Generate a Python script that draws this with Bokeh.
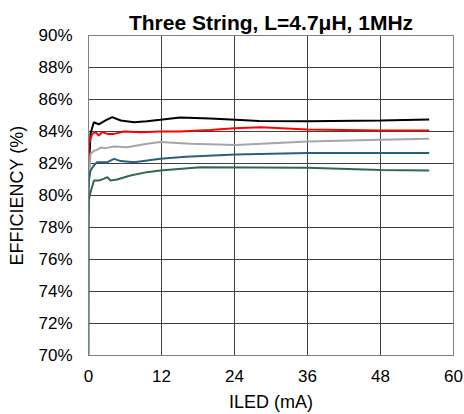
from bokeh.plotting import figure
from bokeh.embed import file_html
from bokeh.resources import INLINE
from bokeh.models import FixedTicker, Range1d

# Data (ILED in mA, efficiency in %)
black_x = [0, 0.33, 0.88, 1.7, 2.8, 3.9, 5.3, 7.5, 9.6, 11.8, 15.1, 20, 24.2, 28, 36, 48, 56]
black_y = [81.0, 83.87, 84.58, 84.44, 84.69, 84.9, 84.69, 84.58, 84.64, 84.73, 84.88, 84.82, 84.73, 84.65, 84.64, 84.69, 84.75]

red_x = [0, 0.05, 0.6, 1.15, 1.7, 2.25, 3.1, 4.2, 5.8, 8.6, 11.8, 15, 20, 24, 28.3, 36, 48, 56]
red_y = [80.5, 83.23, 83.85, 83.96, 83.75, 83.96, 83.85, 83.85, 84.0, 83.96, 84.0, 84.0, 84.1, 84.2, 84.27, 84.12, 84.06, 84.06]

gray_x = [0, 0.33, 0.9, 1.4, 2.0, 2.8, 4.2, 6.4, 9.6, 11.8, 16.8, 24.2, 36, 48, 56]
gray_y = [80.5, 82.6, 82.8, 82.85, 83.0, 82.96, 83.06, 83.02, 83.23, 83.35, 83.23, 83.15, 83.37, 83.48, 83.54]

blue_x = [0, 0.05, 0.33, 0.9, 1.4, 2.0, 3.1, 4.2, 5.3, 7.5, 11.8, 16, 24.2, 36, 48, 56]
blue_y = [79.0, 80.94, 81.56, 81.88, 82.08, 82.08, 82.08, 82.29, 82.15, 82.08, 82.29, 82.42, 82.56, 82.65, 82.65, 82.65]

green_x = [0, 0.05, 0.33, 0.9, 1.7, 2.5, 3.1, 3.6, 4.7, 6.9, 9.6, 11.8, 18.4, 36, 48, 56]
green_y = [69.5, 79.7, 80.2, 80.94, 80.94, 81.04, 81.15, 80.94, 81.0, 81.25, 81.46, 81.56, 81.77, 81.73, 81.6, 81.56]

x_ticks = [0, 12, 24, 36, 48, 60]
y_ticks = [70, 72, 74, 76, 78, 80, 82, 84, 86, 88, 90]
y_tick_labels = ["70%", "72%", "74%", "76%", "78%", "80%", "82%", "84%", "86%", "88%", "90%"]

FONT = "Liberation Sans"

p = figure(width=464, height=414, output_backend="svg", toolbar_location=None,
           x_range=Range1d(0, 60), y_range=Range1d(70, 90),
           min_border_left=88, min_border_right=11, min_border_top=35, min_border_bottom=59,
           title="Three String, L=4.7\u03bcH, 1MHz")

p.title.text_font = FONT
p.title.text_font_size = "21px"
p.title.text_font_style = "bold"
p.title.text_color = "#000000"
p.title.align = "center"
p.title.standoff = 3

p.line(black_x, black_y, line_color="#000000", line_width=2)
p.line(red_x, red_y, line_color="#FF0000", line_width=2)
p.line(gray_x, gray_y, line_color="#A6A6A6", line_width=2)
p.line(blue_x, blue_y, line_color="#2C5F7C", line_width=2)
p.line(green_x, green_y, line_color="#2E6B4E", line_width=2)

p.xaxis.ticker = FixedTicker(ticks=x_ticks)
p.yaxis.ticker = FixedTicker(ticks=y_ticks)
p.yaxis.major_label_overrides = {t: l for t, l in zip(y_ticks, y_tick_labels)}

for ax in (p.xaxis[0], p.yaxis[0]):
    ax.major_label_text_font = FONT
    ax.major_label_text_font_size = "17px"
    ax.major_label_text_color = "#000000"
    ax.axis_label_text_font = FONT
    ax.axis_label_text_font_size = "18px"
    ax.axis_label_text_font_style = "normal"
    ax.axis_label_text_color = "#000000"
    ax.major_tick_out = 0
    ax.major_tick_in = 0
    ax.minor_tick_out = 0
    ax.minor_tick_in = 0
    ax.axis_line_color = "#808080"

p.xaxis.axis_label = "ILED (mA)"
p.yaxis.axis_label = "EFFICIENCY (%)"
p.xaxis.major_label_standoff = 14
p.yaxis.major_label_standoff = 16
p.xaxis.axis_label_standoff = 7
p.yaxis.axis_label_standoff = 8

p.xgrid.grid_line_color = "#404040"
p.ygrid.grid_line_color = "#404040"
p.xgrid.grid_line_width = 1
p.ygrid.grid_line_width = 1
p.outline_line_color = "#808080"
p.outline_line_width = 1
p.background_fill_color = "white"
p.border_fill_color = "white"

open("out.html", "w").write(file_html(p, INLINE))
